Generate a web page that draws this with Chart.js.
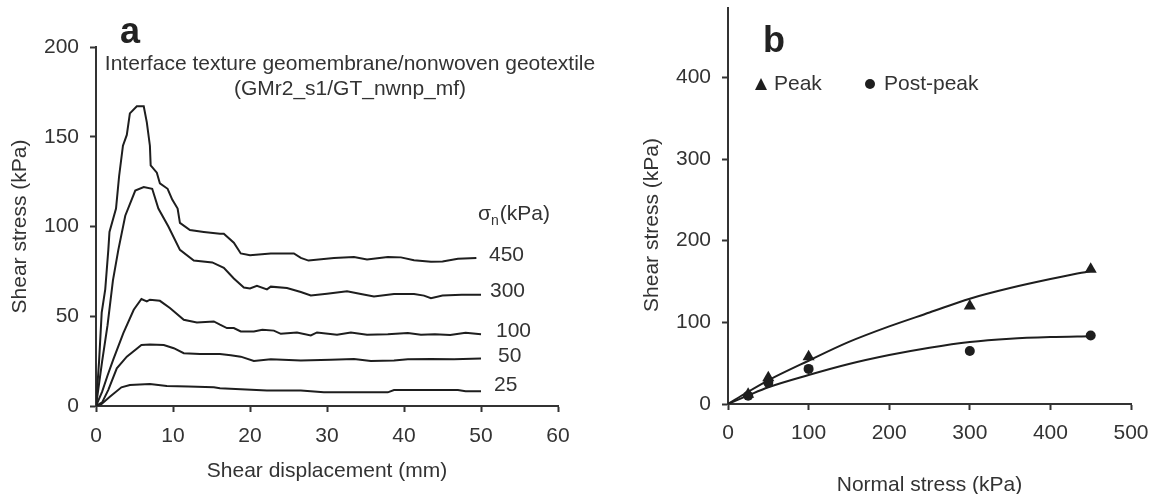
<!DOCTYPE html>
<html>
<head>
<meta charset="utf-8">
<script src="https://cdn.jsdelivr.net/npm/chart.js@4.4.1/dist/chart.umd.min.js"></script>
<style>
  html, body { margin: 0; padding: 0; background: #fff; }
  #wrap { position: relative; width: 1151px; height: 494px; overflow: hidden; }
  #chartA { position: absolute; left: 0; top: 0; }
  #chartB { position: absolute; left: 630px; top: 0; }
</style>
</head>
<body>
<div id="wrap">
  <canvas id="chartA" width="630" height="494"></canvas>
  <canvas id="chartB" width="521" height="494"></canvas>
</div>
<script>
// ---- panel a: shear stress vs shear displacement, one curve per normal stress ----
const normalStresses = ['450', '300', '100', '50', '25'];

const disp450 = [0, 0.4, 0.74, 1.2, 1.4, 1.6, 1.75, 2.6, 3.0, 3.5, 4.0, 4.4, 5.3, 6.2, 6.6, 7.0, 7.1, 7.9, 8.3, 9.3, 9.9, 10.6, 10.9, 12.2, 14.0, 16.1, 16.6, 17.9, 18.8, 20.0, 22.7, 25.7, 26.6, 27.6, 30.9, 33.5, 35.2, 37.9, 39.6, 41.3, 43.5, 45.0, 47.0, 49.4];
const tau450  = [0, 25, 52, 65, 76, 87, 97, 110, 128, 145, 151, 163, 167, 167, 158, 145, 134, 130, 124, 121, 115, 110, 102, 98, 97, 96, 96, 91, 85, 84, 85, 85, 82.5, 81, 82.5, 83, 81.6, 83, 82.8, 81.2, 80.3, 80.5, 82, 82.5];

const disp300 = [0, 0.8, 1.5, 2.2, 2.9, 3.8, 5.1, 6.2, 7.3, 8.1, 9.4, 10.9, 12.7, 15.1, 16.6, 17.9, 19.2, 20.0, 20.9, 22.2, 22.7, 24.8, 26.6, 27.9, 30.0, 32.6, 34.4, 36.1, 38.7, 41.3, 42.6, 43.5, 45.0, 47.5, 50.0];
const tau300  = [0, 25, 45, 70, 87, 106, 120, 122, 121, 110, 100, 87, 81, 80, 77, 71, 66, 65.5, 67, 65, 66.5, 65.7, 63.5, 61.6, 62.6, 63.9, 62.4, 61, 62.4, 62.4, 61.5, 60, 61.5, 62, 62];

const disp100 = [0, 0.8, 1.5, 2.25, 3.55, 4.9, 5.9, 6.6, 7.0, 8.3, 9.6, 11.4, 13.1, 15.3, 16.1, 17.0, 17.9, 18.8, 20.5, 21.6, 23.1, 24.0, 26.1, 27.9, 28.7, 31.3, 33.1, 35.2, 37.9, 40.5, 42.2, 44.0, 46.0, 48.0, 50.0];
const tau100  = [0, 8, 17, 26, 40.6, 53.6, 59.6, 58.3, 59.2, 58.6, 54.6, 48, 46.5, 47.1, 45.3, 43.4, 43.4, 41.5, 41.5, 42.5, 42, 40.2, 41, 39.3, 41, 39.7, 41, 39.7, 40, 40.6, 39.7, 40, 39.5, 40.8, 40];

const disp50 = [0, 0.8, 1.6, 2.7, 4.0, 5.9, 7.0, 8.8, 10.1, 11.4, 13.5, 15.3, 16.1, 17.5, 18.8, 20.5, 22.7, 26.6, 30.5, 33.5, 35.7, 38.7, 40.5, 43.5, 46.5, 50.0];
const tau50  = [0, 2, 9, 21, 27.5, 34, 34.3, 34, 32.2, 29.4, 29, 29, 29, 28.3, 27.5, 25.1, 26, 25.3, 25.7, 26.2, 25.1, 25.3, 26, 26.2, 26, 26.5];

const disp25 = [0, 0.7, 1.8, 3.3, 4.4, 7.0, 9.2, 12.0, 15.3, 16.1, 18.8, 22.2, 26.6, 29.6, 33.0, 37.9, 38.7, 43.5, 47.0, 48.0, 50.0];
const tau25  = [0, 1, 5.2, 10.4, 11.7, 12.3, 11.2, 10.8, 10.4, 9.9, 9.3, 8.6, 8.6, 7.6, 7.6, 7.6, 8.9, 8.9, 8.9, 8.2, 8.2];

const dispTicks = [0, 10, 20, 30, 40, 50, 60];
const tauTicksA = [0, 50, 100, 150, 200];
const titleA = ['Interface texture geomembrane/nonwoven geotextile', '(GMr2_s1/GT_nwnp_mf)'];

// ---- panel b: failure envelopes ----
const sigmaTests = [25, 50, 100, 300, 450];
const peakTau = [12, 32, 58, 120, 165];
const postPeakTau = [10, 26, 43, 65, 84];
const fitSigma = [0, 25, 50, 100, 150, 200, 250, 300, 350, 400, 450];
const peakFitTau = [0, 15, 29, 53, 76, 95, 112, 129, 142, 153, 163];
const postFitTau = [0, 10.5, 20.5, 35.5, 49, 60, 69, 76, 80, 82, 83];
const sigmaTicks = [0, 100, 200, 300, 400, 500];
const tauTicksB = [0, 100, 200, 300, 400];
const legendB = ['Peak', 'Post-peak'];

const FONT = '"Liberation Sans", Arial, Helvetica, sans-serif';
const TEXT = '#333';
const INK = '#1e1e1e';
Chart.defaults.font.family = FONT;
Chart.defaults.color = TEXT;

function zip(xs, ys) {
  return xs.map(function (x, i) { return { x: x, y: ys[i] }; });
}

// fixed box size for an axis; drop the label overhang padding so the plot area stays put
function fixBox(prop, size) {
  return function (s) {
    s[prop] = size;
    s.paddingTop = 0; s.paddingBottom = 0; s.paddingLeft = 0; s.paddingRight = 0;
  };
}

function axis(min, max, tickList, extra) {
  const base = {
    type: 'linear',
    min: min,
    max: max,
    border: { display: true, color: '#333', width: 2 },
    grid: { drawOnChartArea: false, drawTicks: true, tickLength: 6, tickWidth: 2, tickColor: '#333' },
    ticks: { font: { size: 21 }, color: TEXT, padding: 11 },
    afterBuildTicks: function (scale) {
      scale.min = min;
      scale.max = max;
      scale.ticks = tickList.map(function (v) { return { value: v }; });
    },
  };
  return Object.assign(base, extra);
}

const curveSets = [
  [disp450, tau450], [disp300, tau300], [disp100, tau100], [disp50, tau50], [disp25, tau25]
];

const panelALabels = {
  id: 'panelALabels',
  afterDraw: function (chart) {
    const ctx = chart.ctx;
    ctx.save();
    ctx.fillStyle = '#222';
    ctx.font = 'bold 36px ' + FONT;
    ctx.textAlign = 'left';
    ctx.textBaseline = 'alphabetic';
    ctx.fillText('a', 120, 43);

    ctx.fillStyle = TEXT;
    ctx.font = '21px ' + FONT;
    ctx.textAlign = 'center';
    ctx.textBaseline = 'middle';
    ctx.fillText(titleA[0], 350, 64);
    ctx.fillText(titleA[1], 350, 89);

    // sigma_n (kPa)
    ctx.textAlign = 'left';
    let x = 478;
    ctx.fillText('σ', x, 214);
    x += ctx.measureText('σ').width;
    ctx.font = '14px ' + FONT;
    ctx.fillText('n', x, 221);
    x += ctx.measureText('n').width + 1;
    ctx.font = '21px ' + FONT;
    ctx.fillText('(kPa)', x, 214);

    const spots = [[489, 255], [490, 291], [496, 331], [498, 356], [494, 385]];
    for (let i = 0; i < normalStresses.length; i++) {
      ctx.fillText(normalStresses[i], spots[i][0], spots[i][1]);
    }
    ctx.restore();
  }
};

new Chart(document.getElementById('chartA'), {
  type: 'scatter',
  data: {
    datasets: curveSets.map(function (c, i) {
      return {
        label: normalStresses[i],
        data: zip(c[0], c[1]),
        showLine: true,
        borderColor: INK,
        borderWidth: 2,
        pointRadius: 0,
        tension: 0,
      };
    }),
  },
  options: {
    responsive: false,
    animation: false,
    layout: { padding: { left: 0, right: 72, top: 47, bottom: 0 }, autoPadding: false },
    plugins: { legend: { display: false }, tooltip: { enabled: false } },
    scales: {
      x: axis(0, 60, dispTicks, {
        ticks: { font: { size: 21 }, color: TEXT, padding: 12 },
        title: { display: true, text: 'Shear displacement (mm)', font: { size: 21 }, color: TEXT, padding: { top: 0, bottom: 10 } },
        afterFit: fixBox('height', 88),
      }),
      y: axis(0, 200, tauTicksA, {
        title: { display: true, text: 'Shear stress (kPa)', font: { size: 21 }, color: TEXT, padding: { top: 8, bottom: 0 } },
        afterFit: fixBox('width', 96),
      }),
    },
  },
  plugins: [panelALabels],
});

const panelBLabels = {
  id: 'panelBLabels',
  afterDraw: function (chart) {
    const ctx = chart.ctx;
    ctx.save();
    ctx.fillStyle = '#222';
    ctx.font = 'bold 36px ' + FONT;
    ctx.textAlign = 'left';
    ctx.textBaseline = 'alphabetic';
    ctx.fillText('b', 133, 52);

    // legend
    ctx.fillStyle = INK;
    ctx.beginPath();
    ctx.moveTo(131, 78);
    ctx.lineTo(137, 90);
    ctx.lineTo(125, 90);
    ctx.closePath();
    ctx.fill();
    ctx.beginPath();
    ctx.arc(240, 84, 5, 0, Math.PI * 2);
    ctx.fill();

    ctx.fillStyle = TEXT;
    ctx.font = '21px ' + FONT;
    ctx.textBaseline = 'middle';
    ctx.fillText(legendB[0], 144, 84);
    ctx.fillText(legendB[1], 254, 84);

    // y axis title
    ctx.translate(22, 225);
    ctx.rotate(-Math.PI / 2);
    ctx.textAlign = 'center';
    ctx.fillText('Shear stress (kPa)', 0, 0);
    ctx.restore();
  }
};

new Chart(document.getElementById('chartB'), {
  type: 'scatter',
  data: {
    datasets: [
      {
        label: 'Peak fit',
        data: zip(fitSigma, peakFitTau),
        showLine: true,
        borderColor: INK,
        borderWidth: 2,
        pointRadius: 0,
        cubicInterpolationMode: 'monotone',
      },
      {
        label: 'Post-peak fit',
        data: zip(fitSigma, postFitTau),
        showLine: true,
        borderColor: INK,
        borderWidth: 2,
        pointRadius: 0,
        cubicInterpolationMode: 'monotone',
      },
      {
        label: legendB[0],
        data: zip(sigmaTests, peakTau),
        pointStyle: 'triangle',
        pointRadius: 7,
        backgroundColor: INK,
        borderColor: INK,
        borderWidth: 0,
      },
      {
        label: legendB[1],
        data: zip(sigmaTests, postPeakTau),
        pointStyle: 'circle',
        pointRadius: 5,
        backgroundColor: INK,
        borderColor: INK,
        borderWidth: 0,
      },
    ],
  },
  options: {
    responsive: false,
    animation: false,
    layout: { padding: { left: 0, right: 20, top: 8, bottom: 0 }, autoPadding: false },
    plugins: { legend: { display: false }, tooltip: { enabled: false } },
    scales: {
      x: axis(0, 500, sigmaTicks, {
        title: { display: true, text: 'Normal stress (kPa)', font: { size: 21, lineHeight: 0.8 }, color: TEXT, padding: { top: 0, bottom: 0 } },
        afterFit: fixBox('height', 90),
      }),
      y: axis(0, 485, tauTicksB, {
        afterFit: fixBox('width', 98),
      }),
    },
  },
  plugins: [panelBLabels],
});
</script>
</body>
</html>
